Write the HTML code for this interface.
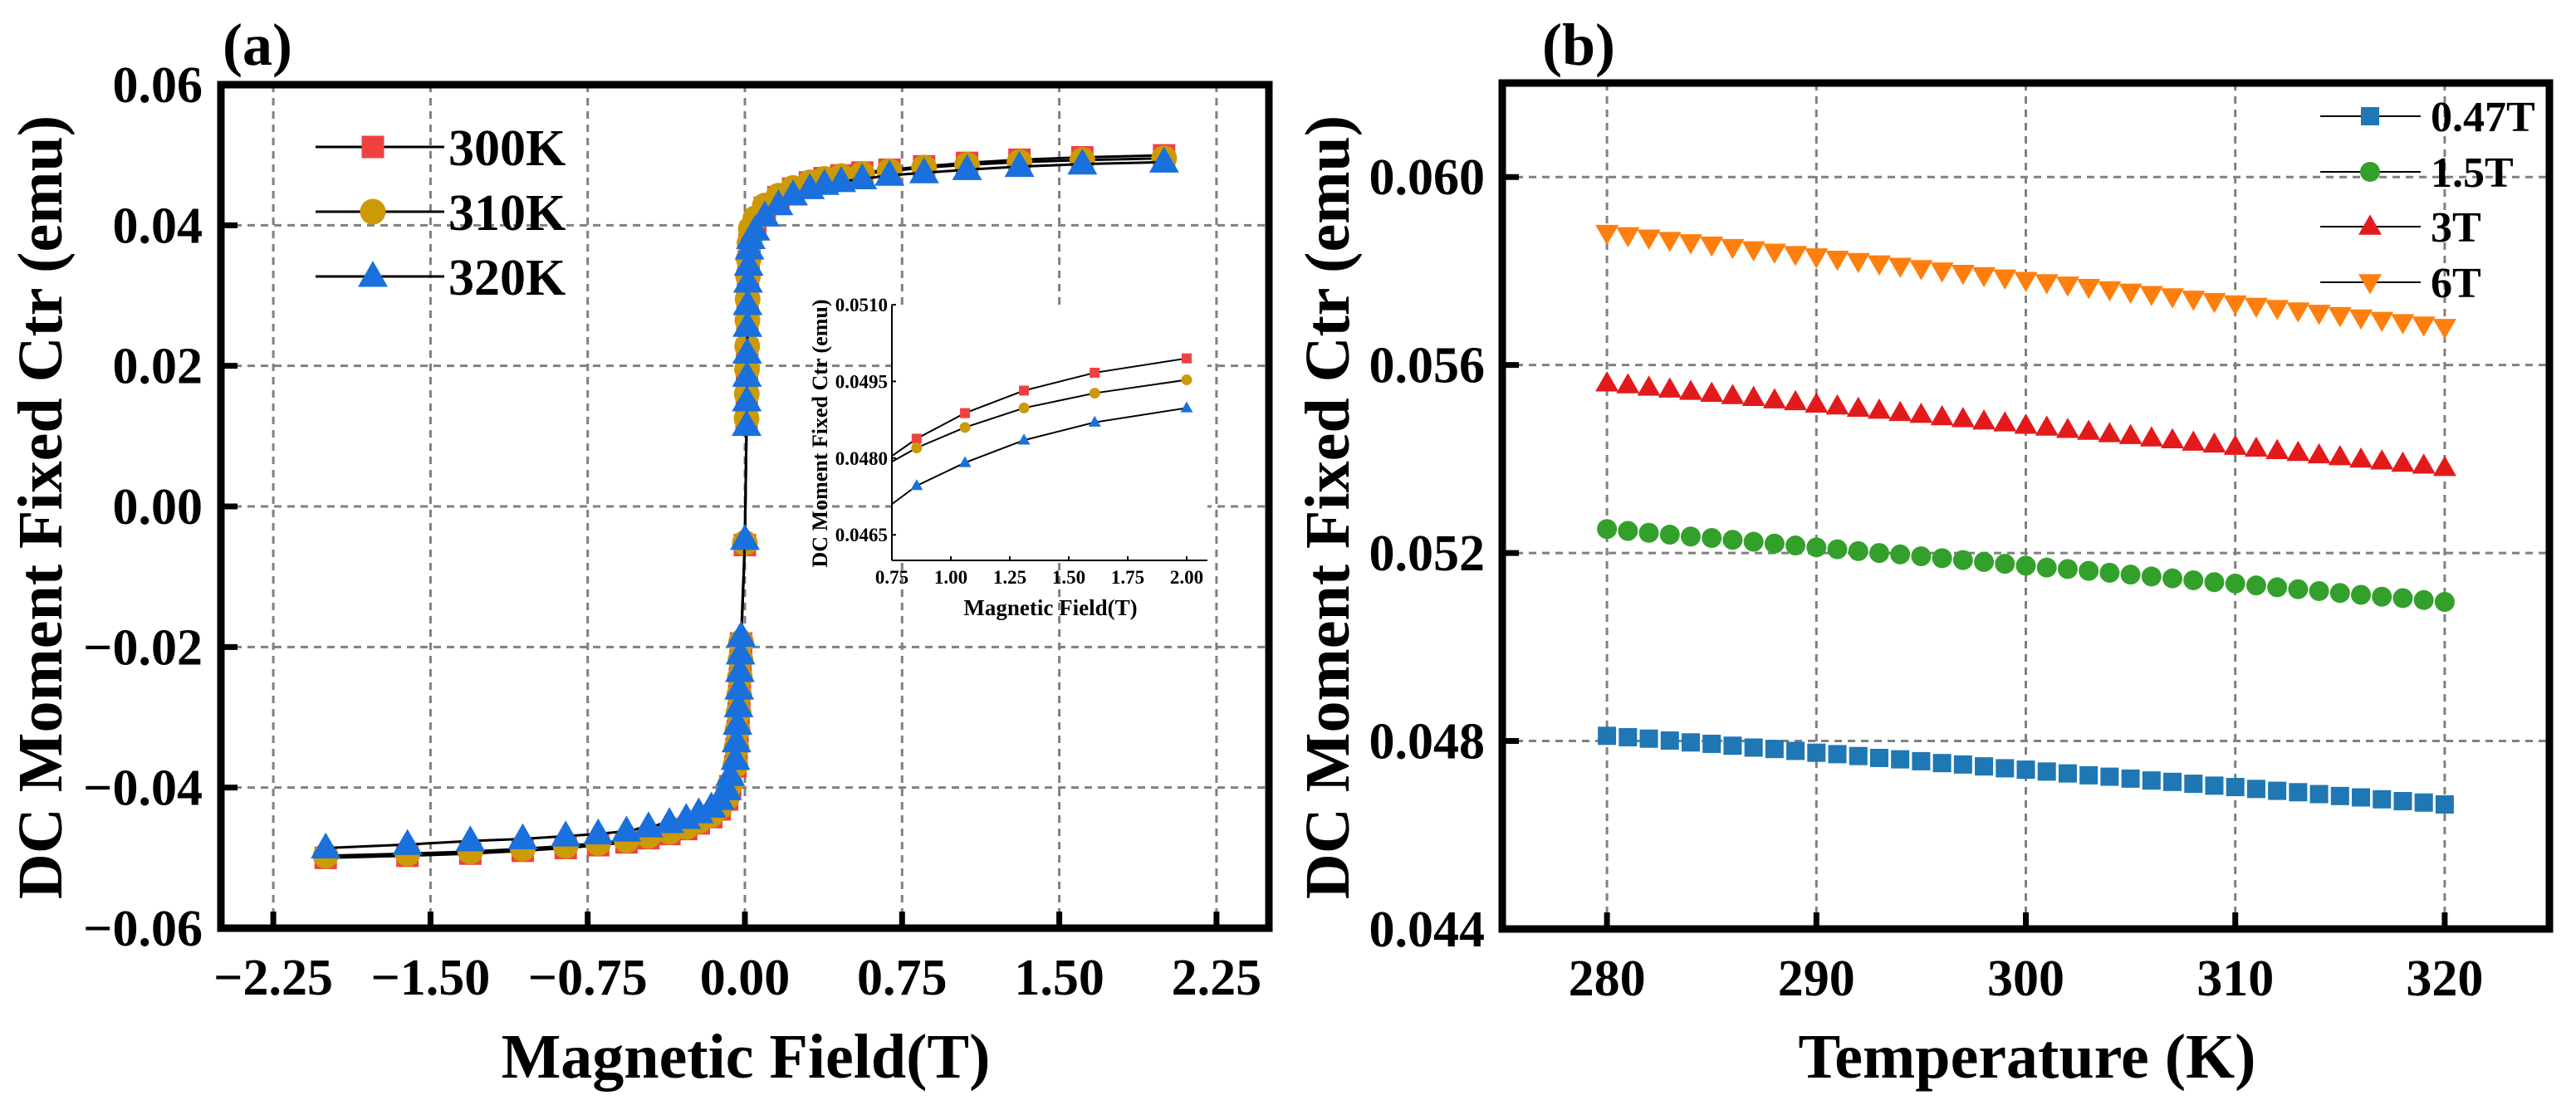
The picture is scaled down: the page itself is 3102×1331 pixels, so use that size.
<!DOCTYPE html>
<html><head><meta charset="utf-8"><style>
html,body{margin:0;padding:0;background:#fff;}
svg{display:block;}
text{font-family:"Liberation Serif",serif;font-weight:bold;fill:#000;}
</style></head><body>
<svg id="fig" width="3102" height="1331" viewBox="0 0 3102 1331" xmlns="http://www.w3.org/2000/svg">
<g id="pa"></g>
<g id="pb"></g>
</svg>
<script>
// ---------- Panel (a) data ----------
const fieldH = [-2.0,-1.61,-1.31,-1.06,-0.855,-0.70,-0.565,-0.46,-0.36,-0.28,-0.22,-0.16,-0.12,-0.085,-0.07,-0.045,-0.04,-0.035,-0.03,-0.027,-0.024,-0.021,-0.018,
 0.0,
 0.008,0.009,0.010,0.011,0.012,0.013,0.015,0.018,0.022,0.028,
 0.05,0.095,0.16,0.23,0.31,0.38,0.46,0.56,0.69,0.855,1.06,1.31,1.61,2.0];
const m300 = [-0.0500,-0.0497,-0.0494,-0.0490,-0.0486,-0.0482,-0.0478,-0.0472,-0.0466,-0.0459,-0.0451,-0.0442,-0.0431,-0.0417,-0.0398,-0.0370,-0.0345,-0.0320,-0.0295,-0.0270,-0.0245,-0.0220,-0.0195,
 -0.0055,
 0.0120,0.0155,0.0190,0.0223,0.0260,0.0290,0.0323,0.0348,0.0372,0.0390,
 0.0405,0.0425,0.0440,0.0452,0.0461,0.0467,0.0471,0.0475,0.0479,0.04838,0.04888,0.04932,0.04967,0.04995];
const m310 = [-0.0497,-0.0494,-0.0491,-0.0487,-0.0483,-0.0479,-0.0475,-0.0469,-0.0463,-0.0456,-0.0448,-0.0439,-0.0428,-0.0414,-0.0395,-0.0368,-0.0343,-0.0318,-0.0293,-0.0268,-0.0243,-0.0218,-0.0193,
 -0.0052,
 0.0125,0.0160,0.0195,0.0228,0.0265,0.0295,0.0328,0.0352,0.0375,0.0395,
 0.0410,0.0428,0.0442,0.0453,0.0461,0.0466,0.0470,0.0473,0.0477,0.04820,0.04860,0.04898,0.04927,0.04953];
const m320 = [-0.0486,-0.0481,-0.0476,-0.0473,-0.0469,-0.0466,-0.0462,-0.0456,-0.0450,-0.0444,-0.0436,-0.0428,-0.0417,-0.0403,-0.0383,-0.0360,-0.0335,-0.0310,-0.0285,-0.0260,-0.0235,-0.0210,-0.0185,
 -0.0047,
 0.0115,0.0150,0.0185,0.0218,0.0256,0.0287,0.0319,0.0343,0.0366,0.0381,
 0.0393,0.0413,0.0429,0.0443,0.0452,0.0458,0.0462,0.0466,0.0471,0.04746,0.04791,0.04835,0.04870,0.04898];
const aXTicks = [-2.25,-1.50,-0.75,0.00,0.75,1.50,2.25];
const aXTickLabels = ["\u22122.25","\u22121.50","\u22120.75","0.00","0.75","1.50","2.25"];
const aYTicks = [-0.06,-0.04,-0.02,0.00,0.02,0.04,0.06];
const aYTickLabels = ["\u22120.06","\u22120.04","\u22120.02","0.00","0.02","0.04","0.06"];
// inset data
const insetH = [0.75,0.855,1.06,1.31,1.61,2.0];
const inset300 = [0.04804,0.04838,0.04888,0.04932,0.04967,0.04995];
const inset310 = [0.04793,0.04820,0.04860,0.04898,0.04927,0.04953];
const inset320 = [0.04710,0.04746,0.04791,0.04835,0.04870,0.04898];
const insetXTicks = [0.75,1.00,1.25,1.50,1.75,2.00];
const insetXTickLabels = ["0.75","1.00","1.25","1.50","1.75","2.00"];
const insetYTicks = [0.0465,0.0480,0.0495,0.0510];
const insetYTickLabels = ["0.0465","0.0480","0.0495","0.0510"];
// ---------- Panel (b) data ----------
const temps = [280,281,282,283,284,285,286,287,288,289,290,291,292,293,294,295,296,297,298,299,300,301,302,303,304,305,306,307,308,309,310,311,312,313,314,315,316,317,318,319,320];
const b047 = [0.04811,0.04808,0.04805,0.04801,0.04797,0.04794,0.04790,0.04786,0.04783,0.04779,0.04775,0.04772,0.04768,0.04764,0.04761,0.04757,0.04753,0.04750,0.04746,0.04742,0.04739,0.04735,0.04731,0.04727,0.04724,0.04720,0.04716,0.04713,0.04709,0.04705,0.04702,0.04698,0.04694,0.04691,0.04687,0.04683,0.04680,0.04676,0.04672,0.04669,0.04665];
const b15 = [0.05251,0.05247,0.05243,0.05239,0.05235,0.05232,0.05228,0.05224,0.05220,0.05216,0.05212,0.05208,0.05204,0.05200,0.05197,0.05193,0.05189,0.05185,0.05181,0.05177,0.05173,0.05169,0.05166,0.05162,0.05158,0.05154,0.05150,0.05146,0.05142,0.05138,0.05135,0.05131,0.05127,0.05123,0.05119,0.05115,0.05111,0.05107,0.05104,0.05100,0.05096];
const b3 = [0.05561,0.05557,0.05552,0.05548,0.05543,0.05539,0.05534,0.05530,0.05525,0.05521,0.05516,0.05512,0.05507,0.05503,0.05498,0.05494,0.05489,0.05485,0.05480,0.05476,0.05471,0.05467,0.05462,0.05458,0.05453,0.05449,0.05444,0.05440,0.05435,0.05431,0.05426,0.05422,0.05417,0.05413,0.05408,0.05404,0.05399,0.05395,0.05390,0.05386,0.05381];
const b6 = [0.05881,0.05876,0.05871,0.05866,0.05861,0.05856,0.05851,0.05846,0.05841,0.05836,0.05831,0.05826,0.05821,0.05816,0.05811,0.05806,0.05801,0.05796,0.05791,0.05786,0.05781,0.05776,0.05771,0.05766,0.05761,0.05756,0.05751,0.05746,0.05741,0.05736,0.05731,0.05726,0.05721,0.05716,0.05711,0.05706,0.05701,0.05696,0.05691,0.05686,0.05681];
const bXTicks = [280,290,300,310,320];
const bXTickLabels = ["280","290","300","310","320"];
const bYTicks = [0.044,0.048,0.052,0.056,0.060];
const bYTickLabels = ["0.044","0.048","0.052","0.056","0.060"];

const NS="http://www.w3.org/2000/svg";
function mk(parent,tag,attrs,txt){const e=document.createElementNS(NS,tag);for(const k in attrs)e.setAttribute(k,attrs[k]);if(txt!==undefined)e.textContent=txt;parent.appendChild(e);return e;}
function marker(g,shape,x,y,s,color){
  let e;
  if(shape==='sq'){e=mk(g,'rect',{x:x-s/2,y:y-s/2,width:s,height:s,fill:color});}
  else if(shape==='ci'){e=mk(g,'circle',{cx:x,cy:y,r:s/2,fill:color});}
  else if(shape==='tu'){const h=s*0.87;e=mk(g,'polygon',{points:`${x},${y-h*0.6} ${x-s/2},${y+h*0.4} ${x+s/2},${y+h*0.4}`,fill:color});}
  else {const h=s*0.87;e=mk(g,'polygon',{points:`${x},${y+h*0.6} ${x-s/2},${y-h*0.4} ${x+s/2},${y-h*0.4}`,fill:color});}
  return e;
}

// ===== Panel a =====
const pa=document.getElementById('pa');
const aL=266,aR=1528,aT=102,aB=1118;
const ax=v=>aL+(v+2.5)/5*(aR-aL);
const ay=v=>aB-(v+0.06)/0.12*(aB-aT);
const aGrid=mk(pa,'g',{});

aXTicks.forEach(t=>mk(aGrid,'line',{x1:ax(t),x2:ax(t),y1:aT,y2:aB,stroke:'#808080','stroke-width':3,'stroke-dasharray':'9 7'}));
aYTicks.forEach(t=>mk(aGrid,'line',{x1:aL,x2:aR,y1:ay(t),y2:ay(t),stroke:'#808080','stroke-width':3,'stroke-dasharray':'9 7'}));
const aSeries=[{n:'300K',d:m300,c:'#f04141',s:'sq',sz:27},{n:'310K',d:m310,c:'#cc9a06',s:'ci',sz:31},{n:'320K',d:m320,c:'#1a70dc',s:'tu',sz:36}];
aSeries.forEach(sr=>{
  const g=mk(pa,'g',{});
  
  mk(g,'polyline',{points:fieldH.map((h,i)=>ax(h)+','+ay(sr.d[i])).join(' '),fill:'none',stroke:'#000','stroke-width':3});
  fieldH.forEach((h,i)=>{const m=marker(g,sr.s,ax(h),ay(sr.d[i]),sr.sz,sr.c);
    
    });
});
const aFrame=mk(pa,'rect',{x:aL,y:aT,width:aR-aL,height:aB-aT,fill:'none',stroke:'#000','stroke-width':9});

aXTicks.forEach((t,i)=>{mk(pa,'line',{x1:ax(t),x2:ax(t),y1:aB,y2:aB-20,stroke:'#000','stroke-width':7});
  const tl=mk(pa,'text',{x:ax(t),y:aB+80,'font-size':62,'text-anchor':'middle'},aXTickLabels[i]);
  });
aYTicks.forEach((t,i)=>{mk(pa,'line',{x1:aL,x2:aL+20,y1:ay(t),y2:ay(t),stroke:'#000','stroke-width':7});
  const tl=mk(pa,'text',{x:244,y:ay(t)+21,'font-size':62,'text-anchor':'end'},aYTickLabels[i]);
  });
let t1=mk(pa,'text',{x:898,y:1298,'font-size':76,'text-anchor':'middle'},'Magnetic Field(T)');

t1=mk(pa,'text',{x:0,y:0,'font-size':76,'text-anchor':'middle',transform:'translate(74,611) rotate(-90)'},'DC Moment Fixed Ctr (emu)');

t1=mk(pa,'text',{x:268,y:78,'font-size':72},'(a)');

const legA=mk(pa,'g',{});

[177,255,333].forEach((y,i)=>{const sr=aSeries[i];
  const e=mk(legA,'g',{});
  
  mk(e,'line',{x1:380,x2:535,y1:y,y2:y,stroke:'#000','stroke-width':3});
  marker(e,sr.s,449,y,sr.sz,sr.c);
  mk(e,'text',{x:540,y:y+22,'font-size':62},sr.n);});
// inset
const ins=mk(pa,'g',{});

const iL=1074,iB=675,iR=1454,iT=367;
const ix=v=>iL+(v-0.75)/1.25*(1429-iL);
const iy=v=>iB-(v-0.0460)/0.0050*(iB-iT);
mk(ins,'rect',{x:iL,y:iT,width:iR-iL,height:iB-iT,fill:'#fff'});
[{d:inset300,c:'#f04141',s:'sq',sz:12,n:'300K'},{d:inset310,c:'#cc9a06',s:'ci',sz:13,n:'310K'},{d:inset320,c:'#1a70dc',s:'tu',sz:15,n:'320K'}].forEach(sr=>{
  const g=mk(ins,'g',{});
  
  mk(g,'polyline',{points:insetH.map((h,i)=>ix(h)+','+iy(sr.d[i])).join(' '),fill:'none',stroke:'#000','stroke-width':2});
  insetH.forEach((h,i)=>{if(i===0)return;const m=marker(g,sr.s,ix(h),iy(sr.d[i]),sr.sz,sr.c);
    
    });
});
mk(ins,'line',{x1:iL,x2:iL,y1:iT,y2:iB,stroke:'#000','stroke-width':2});
mk(ins,'line',{x1:iL,x2:iR,y1:iB,y2:iB,stroke:'#000','stroke-width':2});
insetXTicks.forEach((t,i)=>{mk(ins,'line',{x1:ix(t),x2:ix(t),y1:iB,y2:iB-5,stroke:'#000','stroke-width':2});
  mk(ins,'text',{x:ix(t),y:703,'font-size':23,'font-weight':'normal','text-anchor':'middle'},insetXTickLabels[i]);});
insetYTicks.forEach((t,i)=>{mk(ins,'line',{x1:iL,x2:iL+5,y1:iy(t),y2:iy(t),stroke:'#000','stroke-width':2});
  mk(ins,'text',{x:iL-5,y:iy(t)+8,'font-size':23,'font-weight':'normal','text-anchor':'end'},insetYTickLabels[i]);});
t1=mk(ins,'text',{x:1265,y:741,'font-size':27,'text-anchor':'middle'},'Magnetic Field(T)');

t1=mk(ins,'text',{x:0,y:0,'font-size':26,'text-anchor':'middle',transform:'translate(996,522) rotate(-90)'},'DC Moment Fixed Ctr (emu)');


// ===== Panel b =====
const pb=document.getElementById('pb');
const bL=1809,bR=3070,bT=100,bB=1119;
const bx=v=>bL+(v-275)/50*(bR-bL);
const by=v=>bB-(v-0.044)/0.018*(bB-bT);
const bGrid=mk(pb,'g',{});

bXTicks.forEach(t=>mk(bGrid,'line',{x1:bx(t),x2:bx(t),y1:bT,y2:bB,stroke:'#808080','stroke-width':3,'stroke-dasharray':'9 7'}));
bYTicks.forEach(t=>mk(bGrid,'line',{x1:bL,x2:bR,y1:by(t),y2:by(t),stroke:'#808080','stroke-width':3,'stroke-dasharray':'9 7'}));
const bSeries=[{n:'0.47T',d:b047,c:'#1f77b4',s:'sq',sz:22},{n:'1.5T',d:b15,c:'#33a02c',s:'ci',sz:24},{n:'3T',d:b3,c:'#e31a1c',s:'tu',sz:28},{n:'6T',d:b6,c:'#ff7f0e',s:'td',sz:28}];
bSeries.forEach(sr=>{
  const g=mk(pb,'g',{});
  
  temps.forEach((t,i)=>{const m=marker(g,sr.s,bx(t),by(sr.d[i]),sr.sz,sr.c);
    
    });
});
const bFrame=mk(pb,'rect',{x:bL,y:bT,width:bR-bL,height:bB-bT,fill:'none',stroke:'#000','stroke-width':9});

bXTicks.forEach((t,i)=>{mk(pb,'line',{x1:bx(t),x2:bx(t),y1:bB,y2:bB-20,stroke:'#000','stroke-width':7});
  const tl=mk(pb,'text',{x:bx(t),y:bB+80,'font-size':62,'text-anchor':'middle'},bXTickLabels[i]);
  });
bYTicks.forEach((t,i)=>{mk(pb,'line',{x1:bL,x2:bL+20,y1:by(t),y2:by(t),stroke:'#000','stroke-width':7});
  const tl=mk(pb,'text',{x:1788,y:by(t)+21,'font-size':62,'text-anchor':'end'},bYTickLabels[i]);
  });
t1=mk(pb,'text',{x:2441,y:1298,'font-size':76,'text-anchor':'middle'},'Temperature (K)');

t1=mk(pb,'text',{x:0,y:0,'font-size':76,'text-anchor':'middle',transform:'translate(1624,611) rotate(-90)'},'DC Moment Fixed Ctr (emu)');

t1=mk(pb,'text',{x:1857,y:78,'font-size':72},'(b)');

const legB=mk(pb,'g',{});

[140,207,273,340].forEach((y,i)=>{const sr=bSeries[i];
  const e=mk(legB,'g',{});
  
  mk(e,'line',{x1:2794,x2:2915,y1:y,y2:y,stroke:'#000','stroke-width':2});
  marker(e,sr.s,2854,y,sr.sz,sr.c);
  mk(e,'text',{x:2927,y:y+18,'font-size':52},sr.n);});
</script>
</body></html>
